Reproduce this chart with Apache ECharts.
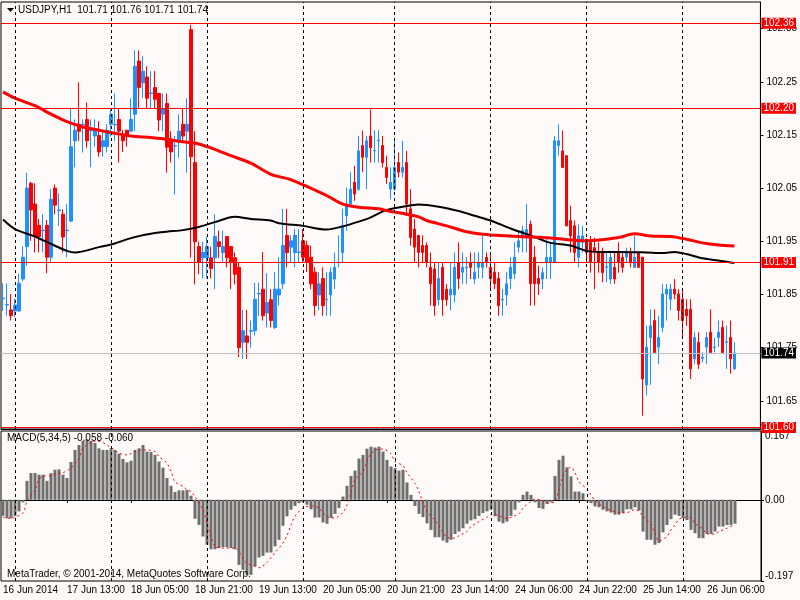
<!DOCTYPE html>
<html>
<head>
<meta charset="utf-8">
<script src="https://cdn.jsdelivr.net/npm/echarts@6/dist/echarts.min.js"></script>
<style>
  html, body { margin: 0; padding: 0; background: #fffafa; }
  #chart { width: 800px; height: 600px; }
</style>
</head>
<body>
<div id="chart"></div>
<script>
// USDJPY H1 bars, 16 Jun 21:00 .. 26 Jun 13:00
var timeLabels = ['16 Jun 2014', '17 Jun 13:00', '18 Jun 05:00', '18 Jun 21:00', '19 Jun 13:00', '20 Jun 05:00',
  '20 Jun 21:00', '23 Jun 14:00', '24 Jun 06:00', '24 Jun 22:00', '25 Jun 14:00', '26 Jun 06:00'];

var opens = [101.842,101.830,101.821,101.819,101.819,101.879,101.940,102.059,102.020,101.980,
  101.970,101.980,101.920,102.050,102.008,102.001,101.970,101.988,102.139,102.170,
  102.169,102.179,102.158,102.148,102.149,102.128,102.128,102.170,102.169,102.179,
  102.149,102.159,102.157,102.189,102.289,102.248,102.259,102.228,102.239,102.228,
  102.189,102.209,102.139,102.129,102.139,102.170,102.157,102.348,102.098,101.940,
  101.919,101.919,101.919,101.919,101.949,101.929,101.959,101.940,101.919,101.901,
  101.760,101.772,101.781,101.782,101.851,101.860,101.815,101.840,101.788,101.849,
  101.870,101.961,101.939,101.929,101.929,101.951,101.942,101.920,101.892,101.849,
  101.880,101.840,101.849,101.879,101.910,101.929,101.998,102.020,102.061,102.048,
  102.130,102.108,102.148,102.120,102.139,102.130,102.089,102.048,102.048,102.098,
  102.080,102.098,102.011,101.973,101.961,101.942,101.942,101.901,101.898,101.840,
  101.901,101.860,101.849,101.849,101.910,101.892,101.900,101.910,101.879,101.901,
  101.901,101.920,101.901,101.892,101.880,101.840,101.849,101.880,101.889,101.939,
  101.957,101.960,101.982,101.920,101.880,101.879,101.910,101.910,101.910,102.130,
  102.120,102.111,101.989,101.979,101.920,101.948,101.954,101.948,101.938,101.929,
  101.929,101.901,101.879,101.901,101.929,101.920,101.920,101.929,101.901,101.929,
  101.920,101.680,101.769,101.801,101.751,101.788,101.851,101.841,101.860,101.851,
  101.841,101.822,101.822,101.729,101.760,101.730,101.751,101.779,101.750,101.769,
  101.788,101.760,101.769,101.710];
var highs = [101.871,101.871,101.851,101.842,101.889,101.941,102.079,102.062,102.059,101.992,
  102.001,101.990,102.048,102.057,102.040,102.010,102.020,102.199,102.179,102.249,
  102.179,102.211,102.179,102.179,102.176,102.157,102.170,102.199,102.228,102.199,
  102.159,102.159,102.219,102.309,102.309,102.298,102.279,102.270,102.270,102.229,
  102.228,102.228,102.157,102.148,102.189,102.199,102.219,102.357,102.157,101.949,
  101.949,101.959,101.940,102.001,101.970,101.970,101.960,101.941,101.929,101.910,
  101.821,101.821,101.801,101.872,101.872,101.930,101.890,101.860,101.892,101.920,
  102.011,102.011,101.961,101.973,101.973,101.973,101.951,101.942,101.901,101.892,
  101.901,101.892,101.901,101.929,101.961,102.011,102.051,102.080,102.092,102.148,
  102.158,102.148,102.198,102.159,102.159,102.148,102.111,102.089,102.139,102.117,
  102.139,102.120,102.048,101.992,101.962,101.961,101.948,101.929,101.910,101.910,
  101.910,101.870,101.910,101.929,101.948,101.929,101.920,101.929,101.929,101.929,
  101.961,101.929,101.929,101.910,101.892,101.860,101.892,101.920,101.948,101.970,
  101.979,102.020,101.989,101.941,101.904,101.901,101.960,101.948,102.148,102.170,
  102.158,102.112,102.017,101.989,101.982,101.979,101.955,101.960,101.957,101.948,
  101.938,101.929,101.929,101.929,101.948,101.929,101.938,101.938,101.960,101.930,
  101.921,101.791,101.822,101.822,101.810,101.870,101.870,101.870,101.879,101.860,
  101.860,101.841,101.841,101.779,101.779,101.741,101.779,101.822,101.769,101.801,
  101.801,101.791,101.801,101.760];
var lows = [101.819,101.810,101.801,101.807,101.817,101.875,101.904,101.951,101.929,101.929,
  101.929,101.890,101.909,102.001,101.979,101.929,101.920,101.986,102.089,102.139,
  102.117,102.126,102.089,102.128,102.109,102.109,102.117,102.147,102.139,102.098,
  102.118,102.128,102.157,102.157,102.201,102.219,102.199,102.199,102.199,102.157,
  102.157,102.079,102.098,102.038,102.107,102.139,102.079,101.919,101.869,101.888,
  101.880,101.880,101.880,101.860,101.919,101.910,101.901,101.860,101.869,101.732,
  101.729,101.729,101.750,101.773,101.810,101.801,101.788,101.788,101.785,101.829,
  101.860,101.901,101.910,101.901,101.910,101.910,101.892,101.860,101.810,101.820,
  101.810,101.810,101.810,101.860,101.901,101.910,101.970,102.018,102.026,102.045,
  102.080,102.048,102.098,102.098,102.098,102.089,102.058,102.029,102.045,102.070,
  102.070,101.998,101.942,101.910,101.901,101.910,101.901,101.829,101.810,101.829,
  101.810,101.829,101.820,101.835,101.860,101.870,101.870,101.879,101.870,101.880,
  101.880,101.901,101.860,101.860,101.810,101.810,101.829,101.860,101.879,101.929,
  101.929,101.929,101.829,101.829,101.849,101.860,101.879,101.879,101.909,102.111,
  102.088,101.978,101.929,101.910,101.901,101.929,101.910,101.891,101.860,101.891,
  101.873,101.873,101.870,101.870,101.891,101.891,101.910,101.901,101.900,101.900,
  101.622,101.660,101.680,101.740,101.719,101.779,101.801,101.820,101.841,101.801,
  101.769,101.791,101.691,101.719,101.710,101.722,101.719,101.740,101.741,101.751,
  101.740,101.710,101.701,101.709];
var closes = [101.843,101.831,101.810,101.830,101.871,101.920,102.050,102.009,101.959,101.959,
  101.971,101.920,102.029,102.018,102.009,101.958,101.971,102.128,102.159,102.157,
  102.170,102.139,102.159,102.158,102.118,102.139,102.159,102.189,102.170,102.157,
  102.139,102.148,102.179,102.279,102.239,102.270,102.219,102.229,102.217,102.178,
  102.199,102.127,102.118,102.130,102.157,102.148,102.170,102.109,101.949,101.910,
  101.929,101.940,101.899,101.959,101.940,101.940,101.919,101.910,101.888,101.750,
  101.782,101.760,101.782,101.841,101.852,101.810,101.835,101.801,101.860,101.860,
  101.942,101.929,101.951,101.961,101.930,101.920,101.910,101.870,101.829,101.870,
  101.829,101.841,101.892,101.901,101.911,101.979,102.020,102.048,102.039,102.120,
  102.108,102.139,102.126,102.121,102.140,102.098,102.070,102.061,102.089,102.080,
  102.089,102.020,101.957,101.939,101.929,101.929,101.910,101.870,101.829,101.880,
  101.840,101.840,101.860,101.901,101.880,101.901,101.901,101.901,101.892,101.910,
  101.910,101.910,101.880,101.870,101.829,101.841,101.870,101.901,101.920,101.951,
  101.970,101.972,101.870,101.870,101.870,101.891,101.920,101.920,102.139,102.139,
  102.089,101.979,101.960,101.929,101.960,101.960,101.929,101.910,101.929,101.910,
  101.891,101.902,101.920,101.879,101.910,101.901,101.929,101.910,101.920,101.901,
  101.691,101.751,101.791,101.741,101.769,101.851,101.860,101.860,101.851,101.820,
  101.801,101.810,101.710,101.769,101.719,101.732,101.769,101.741,101.751,101.779,
  101.741,101.761,101.729,101.740];

// moving averages read at [bar, price]
var maRed = [[0,102.231],[3,102.219],[8,102.205],[12,102.189],[16,102.175],[20,102.165],[24,102.159],
  [28,102.153],[32,102.148],[37,102.145],[41,102.142],[45,102.137],[49,102.133],[53,102.123],[57,102.111],
  [62,102.097],[67,102.076],[72,102.066],[81,102.036],[85,102.020],[89,102.014],[94,102.011],[97,102.006],
  [101,102.001],[104,101.996],[106,101.989],[111,101.979],[116,101.968],[119,101.964],[122,101.962],
  [129,101.959],[137,101.956],[146,101.951],[154,101.957],[158,101.964],[162,101.960],[167,101.959],
  [171,101.954],[175,101.947],[179,101.943],[183,101.941]];
var maBlack = [[0,101.991],[3,101.973],[8,101.959],[12,101.945],[16,101.932],[18,101.929],[24,101.939],
  [28,101.946],[32,101.956],[37,101.964],[41,101.968],[45,101.971],[49,101.977],[53,101.986],[58,101.996],
  [62,101.992],[67,101.989],[69,101.984],[75,101.979],[81,101.972],[85,101.978],[89,101.987],[92,101.995],
  [96,102.009],[100,102.015],[104,102.019],[109,102.015],[114,102.007],[118,101.998],[122,101.989],
  [127,101.974],[133,101.958],[137,101.947],[142,101.942],[146,101.932],[150,101.930],[154,101.930],
  [161,101.929],[165,101.928],[168,101.930],[171,101.926],[175,101.918],[179,101.914],[183,101.909]];

var macdHist = [-0.039,-0.045,-0.045,-0.039,-0.028,-0.006,0.046,0.065,0.065,0.061,
  0.061,0.046,0.065,0.073,0.074,0.061,0.053,0.092,0.121,0.133,
  0.143,0.147,0.143,0.138,0.125,0.121,0.121,0.125,0.121,0.112,
  0.099,0.091,0.095,0.121,0.125,0.133,0.117,0.116,0.109,0.093,
  0.078,0.053,0.034,0.019,0.023,0.023,0.024,0.010,-0.046,-0.061,
  -0.089,-0.109,-0.120,-0.120,-0.117,-0.115,-0.115,-0.117,-0.120,-0.158,
  -0.170,-0.182,-0.182,-0.161,-0.140,-0.136,-0.128,-0.128,-0.113,-0.097,
  -0.063,-0.040,-0.024,-0.015,-0.008,-0.006,-0.012,-0.023,-0.043,-0.043,
  -0.055,-0.058,-0.044,-0.034,-0.020,0.008,0.034,0.058,0.071,0.100,
  0.109,0.124,0.129,0.127,0.129,0.117,0.097,0.081,0.077,0.071,
  0.073,0.042,0.012,-0.015,-0.034,-0.042,-0.057,-0.073,-0.091,-0.091,
  -0.099,-0.104,-0.097,-0.083,-0.077,-0.069,-0.058,-0.050,-0.047,-0.039,
  -0.032,-0.028,-0.024,-0.040,-0.053,-0.057,-0.053,-0.039,-0.024,-0.006,
  0.012,0.020,0.012,-0.006,-0.020,-0.022,-0.010,-0.006,0.058,0.097,
  0.107,0.079,0.057,0.020,0.020,0.016,-0.004,-0.008,-0.016,-0.018,
  -0.024,-0.028,-0.031,-0.036,-0.036,-0.032,-0.023,-0.023,-0.018,-0.026,
  -0.077,-0.097,-0.097,-0.109,-0.105,-0.079,-0.061,-0.047,-0.036,-0.039,
  -0.044,-0.049,-0.073,-0.081,-0.093,-0.093,-0.083,-0.083,-0.077,-0.065,
  -0.065,-0.061,-0.061,-0.058];
var macdSignal = [[0,-0.042],[2,-0.045],[3,-0.042],[5,-0.032],[6,-0.004],[8,0.024],[9,0.049],[10,0.058],
  [12,0.058],[13,0.062],[15,0.066],[17,0.077],[19,0.101],[20,0.125],[23,0.142],[24,0.142],[26,0.133],
  [28,0.120],[29,0.113],[31,0.109],[33,0.117],[34,0.121],[36,0.121],[38,0.117],[39,0.105],[41,0.089],
  [42,0.069],[43,0.044],[45,0.032],[46,0.024],[47,0.020],[48,0.008],[50,-0.024],[51,-0.057],[52,-0.089],
  [53,-0.113],[55,-0.117],[56,-0.117],[58,-0.117],[59,-0.125],[60,-0.142],[61,-0.154],[63,-0.162],
  [64,-0.165],[66,-0.152],[67,-0.140],[68,-0.128],[70,-0.105],[71,-0.087],[72,-0.061],[73,-0.040],
  [75,-0.020],[77,-0.015],[79,-0.020],[80,-0.032],[82,-0.044],[83,-0.044],[85,-0.030],[86,-0.012],
  [87,0.016],[88,0.049],[90,0.069],[91,0.093],[92,0.112],[94,0.123],[95,0.123],[97,0.112],[98,0.093],
  [100,0.083],[101,0.066],[103,0.040],[104,0.020],[105,-0.006],[106,-0.028],[108,-0.050],[109,-0.065],
  [110,-0.079],[111,-0.091],[113,-0.093],[114,-0.087],[116,-0.077],[117,-0.065],[119,-0.053],
  [121,-0.042],[122,-0.036],[123,-0.036],[126,-0.045],[128,-0.038],[129,-0.034],[130,-0.020],
  [132,-0.004],[133,0.002],[135,-0.002],[136,-0.008],[138,-0.004],[139,0.028],[140,0.057],[141,0.074],
  [142,0.079],[143,0.066],[144,0.044],[146,0.026],[147,0.012],[148,-0.002],[150,-0.016],[152,-0.026],
  [154,-0.031],[155,-0.032],[157,-0.028],[158,-0.023],[159,-0.028],[160,-0.040],[162,-0.061],
  [163,-0.081],[164,-0.100],[166,-0.089],[167,-0.073],[168,-0.061],[169,-0.047],[171,-0.042],
  [172,-0.044],[173,-0.057],[175,-0.071],[176,-0.083],[178,-0.083],[179,-0.077],[181,-0.069],[183,-0.060]];

var priceLevels = [102.356, 102.20, 101.906, 101.60];
var bidPrice = 101.74;
var daySeparators = [3, 27, 51, 75, 98, 122, 146, 170];
var priceTicks = [101.65, 101.75, 101.85, 101.95, 102.05, 102.15, 102.25, 102.35];
var macdTicks = [-0.197, 0, 0.167];

var font = "'Liberation Sans', Arial, sans-serif";
var slots = [];
for (var i = 0; i < 190; i++) slots.push(String(i));

var candles = opens.map(function (o, i) { return [o, closes[i], lows[i], highs[i]]; });

function showLabel(idx) { return idx % 16 === 0 && idx / 16 < timeLabels.length; }

var sepLines = daySeparators.map(function (b) { return { xAxis: String(b) }; });
var levelLines = priceLevels.map(function (p) {
  return { yAxis: p, lineStyle: { color: '#ff0000', type: 'solid', width: 1 },
    label: { backgroundColor: '#ff0000', color: '#ffffff' } };
});
levelLines.push({ yAxis: bidPrice, lineStyle: { color: '#c0c0c0', type: 'solid', width: 1 },
  label: { backgroundColor: '#000000', color: '#ffffff' } });

var myChart = echarts.init(document.getElementById('chart'));
var option = {
  animation: false,
  backgroundColor: '#fffafa',
  textStyle: { fontFamily: font },
  grid: [
    { left: 1, right: 39, top: 2, height: 427, show: true, borderColor: '#000', borderWidth: 1, backgroundColor: '#fffafa' },
    { left: 1, right: 39, top: 431, height: 150, show: true, borderColor: '#000', borderWidth: 1, backgroundColor: '#fffafa' }
  ],
  xAxis: [
    { type: 'category', gridIndex: 0, data: slots, axisLabel: { show: false }, axisTick: { show: false },
      axisLine: { lineStyle: { color: '#000' } }, splitLine: { show: false } },
    { type: 'category', gridIndex: 1, data: slots,
      axisLine: { lineStyle: { color: '#000' } },
      axisTick: { show: true, alignWithLabel: true, interval: showLabel, length: 3, lineStyle: { color: '#000' } },
      axisLabel: { interval: showLabel, align: 'left', margin: 4, color: '#000', fontSize: 10, fontFamily: font,
        formatter: function (v, idx) { return timeLabels[idx / 16]; } },
      splitLine: { show: false } }
  ],
  yAxis: [
    { type: 'value', gridIndex: 0, position: 'right', min: 101.597, max: 102.4,
      splitLine: { show: false },
      axisLine: { show: true, lineStyle: { color: '#000' } },
      axisTick: { show: true, length: 3, customValues: priceTicks, lineStyle: { color: '#000' } },
      axisLabel: { customValues: priceTicks, margin: 6, color: '#000', fontSize: 10, fontFamily: font,
        formatter: function (v) { return v.toFixed(2); } } },
    { type: 'value', gridIndex: 1, position: 'right', min: -0.197, max: 0.167,
      splitLine: { show: false },
      axisLine: { show: true, lineStyle: { color: '#000' } },
      axisTick: { show: true, length: 3, customValues: macdTicks, lineStyle: { color: '#000' } },
      axisLabel: { customValues: macdTicks, margin: 4, color: '#000', fontSize: 10, fontFamily: font,
        verticalAlignMaxLabel: 'top', verticalAlignMinLabel: 'bottom',
        formatter: function (v) { return v === 0 ? '0.00' : v.toFixed(3); } } }
  ],
  series: [
    {
      type: 'line', xAxisIndex: 0, yAxisIndex: 0, data: [], z: 1, silent: true,
      markLine: {
        silent: true, symbol: ['none', 'none'], animation: false,
        lineStyle: { color: '#000', type: [3, 3], width: 1 },
        label: { show: true, position: 'end', distance: 1, fontSize: 10, fontFamily: font,
          padding: [1, 2, 0, 2], lineHeight: 10,
          formatter: function (p) { return p.value.toFixed(2); } },
        data: sepLines.map(function (d) { return Object.assign({ label: { show: false } }, d); }).concat(levelLines)
      }
    },
    {
      type: 'line', xAxisIndex: 1, yAxisIndex: 1, data: [], z: 1, silent: true,
      markLine: {
        silent: true, symbol: ['none', 'none'], animation: false,
        lineStyle: { color: '#000', type: [3, 3], width: 1 },
        label: { show: false },
        data: sepLines
      }
    },
    {
      type: 'candlestick', xAxisIndex: 0, yAxisIndex: 0, barWidth: 3, z: 2,
      itemStyle: { color: '#1e90ff', color0: '#ff0000', borderColor: '#1e90ff', borderColor0: '#ff0000', borderWidth: 1 },
      data: candles
    },
    {
      type: 'line', xAxisIndex: 0, yAxisIndex: 0, data: maBlack, showSymbol: false, smooth: 0.3, z: 3,
      lineStyle: { color: '#000', width: 2 }
    },
    {
      type: 'line', xAxisIndex: 0, yAxisIndex: 0, data: maRed, showSymbol: false, smooth: 0.3, z: 4,
      lineStyle: { color: '#ff0000', width: 3 }
    },
    {
      type: 'bar', xAxisIndex: 1, yAxisIndex: 1, data: macdHist, barWidth: 3, z: 2,
      itemStyle: { color: '#6e6e6e' }
    },
    {
      type: 'line', xAxisIndex: 1, yAxisIndex: 1, data: macdSignal, showSymbol: false, smooth: 0.3, z: 3,
      lineStyle: { color: '#ff0000', width: 1, type: [2, 3] }
    }
  ],
  graphic: [
    { type: 'polygon', left: 7, top: 8, shape: { points: [[0, 0], [7, 0], [3.5, 4]] }, style: { fill: '#000' }, z: 10 },
    { type: 'text', left: 18, top: 5, z: 10,
      style: { text: 'USDJPY,H1  101.71 101.76 101.71 101.74', fill: '#000', font: '10px ' + font } },
    { type: 'text', left: 7, top: 433, z: 10,
      style: { text: 'MACD(5,34,5) -0.058 -0.060', fill: '#000', font: '10px ' + font } },
    { type: 'text', left: 7, top: 569, z: 10,
      style: { text: 'MetaTrader, © 2001-2014, MetaQuotes Software Corp.', fill: '#000', font: '10px ' + font } }
  ]
};
myChart.setOption(option);
</script>
</body>
</html>
